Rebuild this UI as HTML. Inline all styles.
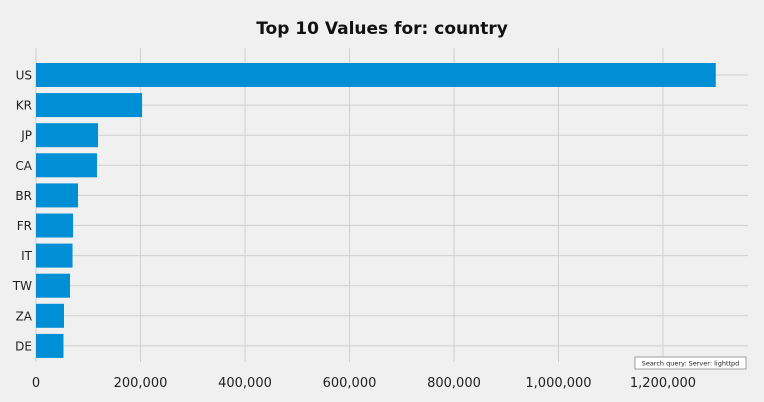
<!DOCTYPE html>
<html><head><meta charset="utf-8"><style>
body{margin:0;background:#f0f0f0;}
svg{display:block;font-family:"DejaVu Sans","Liberation Sans",sans-serif;}
</style></head><body>
<svg id="chart" width="764" height="402">
<rect width="764" height="402" fill="#f0f0f0"/>
<text x="382" y="34" text-anchor="middle" font-size="17" font-weight="bold" fill="#111">Top 10 Values for: country</text>
<g id="grid"></g><g id="bars"></g><g id="labels"></g>
<g>
<rect x="635" y="357" width="111" height="12" fill="#fff" stroke="#888" stroke-width="0.8"/>
<text x="690.5" y="365.5" text-anchor="middle" font-size="6.5" fill="#222">Search query: Server: lighttpd</text>
</g>
</svg>
<script>
const categories=["US","KR","JP","CA","BR","FR","IT","TW","ZA","DE"];
const values=[1301000,203000,118700,116700,80400,70800,69900,65000,53600,52600];
const tickValues=[0,200000,400000,600000,800000,1000000,1200000];
const tickLabels=["0","200,000","400,000","600,000","800,000","1,000,000","1,200,000"];
const NS="http://www.w3.org/2000/svg";
const x0=36,pxPer=(663-36)/1200000,yTop=75,step=30.1,barH=24,gTop=48,gBot=362,gRight=748;
const x=v=>x0+v*pxPer, y=i=>yTop+i*step;
function mk(t,a,p){const e=document.createElementNS(NS,t);for(const k in a)e.setAttribute(k,a[k]);p.appendChild(e);return e;}
const grid=document.getElementById('grid'),bars=document.getElementById('bars'),labels=document.getElementById('labels');
tickValues.forEach((v,i)=>{
 const l=mk('line',{x1:x(v),x2:x(v),y1:gTop,y2:gBot,stroke:'#d0d0d0','stroke-width':1},grid);
 
 
 const t=mk('text',{x:x(v),y:387,'text-anchor':'middle','font-size':13,fill:'#222'},labels);
 t.textContent=tickLabels[i];
 
 
});
categories.forEach((c,i)=>{
 const l=mk('line',{x1:x0,x2:gRight,y1:y(i),y2:y(i),stroke:'#d0d0d0','stroke-width':1},grid);
 
 
 const r=mk('rect',{x:x0,y:y(i)-barH/2,width:x(values[i])-x0,height:barH,fill:'#008fd5'},bars);
 
 
 const t=mk('text',{x:32,y:y(i)+4.5,'text-anchor':'end','font-size':12,fill:'#222'},labels);
 t.textContent=c;
 
 
});
</script>
</body></html>
